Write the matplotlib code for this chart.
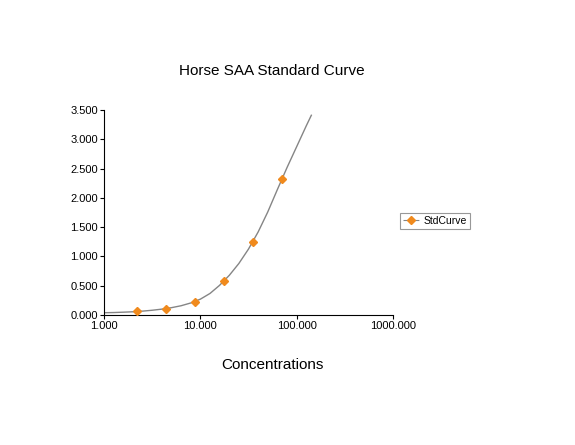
import matplotlib
matplotlib.use("Agg")
import matplotlib.pyplot as plt
from matplotlib.lines import Line2D
from matplotlib.ticker import FuncFormatter, FixedLocator, NullLocator

plt.rcParams['font.family'] = ['Liberation Sans', 'DejaVu Sans']

# Standard points
conc = [2.1875, 4.375, 8.75, 17.5, 35.0, 70.0]
od = [0.06, 0.11, 0.23, 0.58, 1.25, 2.33]

# Fitted curve
curve_x = [1.0, 1.26, 1.58, 2.0, 2.51, 3.16, 3.98, 5.01, 6.31, 7.94, 10.0, 12.6, 15.8,
           20.0, 25.1, 31.6, 39.8, 50.1, 63.1, 79.4, 100.0, 125.9, 142.0]
curve_y = [0.039, 0.042, 0.048, 0.055, 0.066, 0.081, 0.100, 0.125, 0.158, 0.205, 0.270,
           0.368, 0.505, 0.678, 0.879, 1.125, 1.417, 1.759, 2.143, 2.517, 2.874, 3.231, 3.41]

x_ticks = [1, 10, 100, 1000]
y_ticks = [0, 0.5, 1.0, 1.5, 2.0, 2.5, 3.0, 3.5]

title = "Horse SAA Standard Curve"
xlabel = "Concentrations"
series_name = "StdCurve"

orange = '#F08A1D'
gray = '#858585'

fig = plt.figure(figsize=(5.75, 4.45), dpi=100)
ax = fig.add_axes([104/575, 1-315/445, (393-104)/575, (315-110)/445])

ax.plot(curve_x, curve_y, color=gray, lw=1.0, zorder=2)
ax.plot(conc, od, linestyle='none', marker='D', markersize=4.2, color=orange,
        markeredgecolor=orange, zorder=3)

ax.set_xscale('log')
ax.set_xlim(1, 1000)
ax.set_ylim(0, 3.5)
ax.xaxis.set_major_locator(FixedLocator(x_ticks))
ax.xaxis.set_minor_locator(NullLocator())
ax.yaxis.set_major_locator(FixedLocator(y_ticks))
fmt = FuncFormatter(lambda v, p: f"{v:.3f}")
ax.xaxis.set_major_formatter(fmt)
ax.yaxis.set_major_formatter(fmt)

for s in ['top', 'right']:
    ax.spines[s].set_visible(False)
for s in ['left', 'bottom']:
    ax.spines[s].set_color('#000000')
    ax.spines[s].set_linewidth(0.8)
ax.tick_params(axis='both', labelsize=8, length=3, width=0.8, color='#000000', pad=1.5)

fig.text(272/575, 1-71/445, title, ha='center', va='center', fontsize=11)
fig.text(272/575, 1-365/445, xlabel, ha='center', va='center', fontsize=11)

handle = Line2D([0], [0], color=gray, lw=0.8, linestyle='--', marker='D', markersize=4.2,
                markerfacecolor=orange, markeredgecolor=orange)
leg = fig.legend([handle], [series_name], loc='center left',
                 bbox_to_anchor=(400/575, 1-221/445), fontsize=7.5, frameon=True,
                 fancybox=False, handlelength=1.6, handletextpad=0.4,
                 borderpad=0.3, borderaxespad=0)
leg.get_frame().set_edgecolor('#7F7F7F')
leg.get_frame().set_linewidth(0.8)

fig.savefig('out.png', dpi=100)
